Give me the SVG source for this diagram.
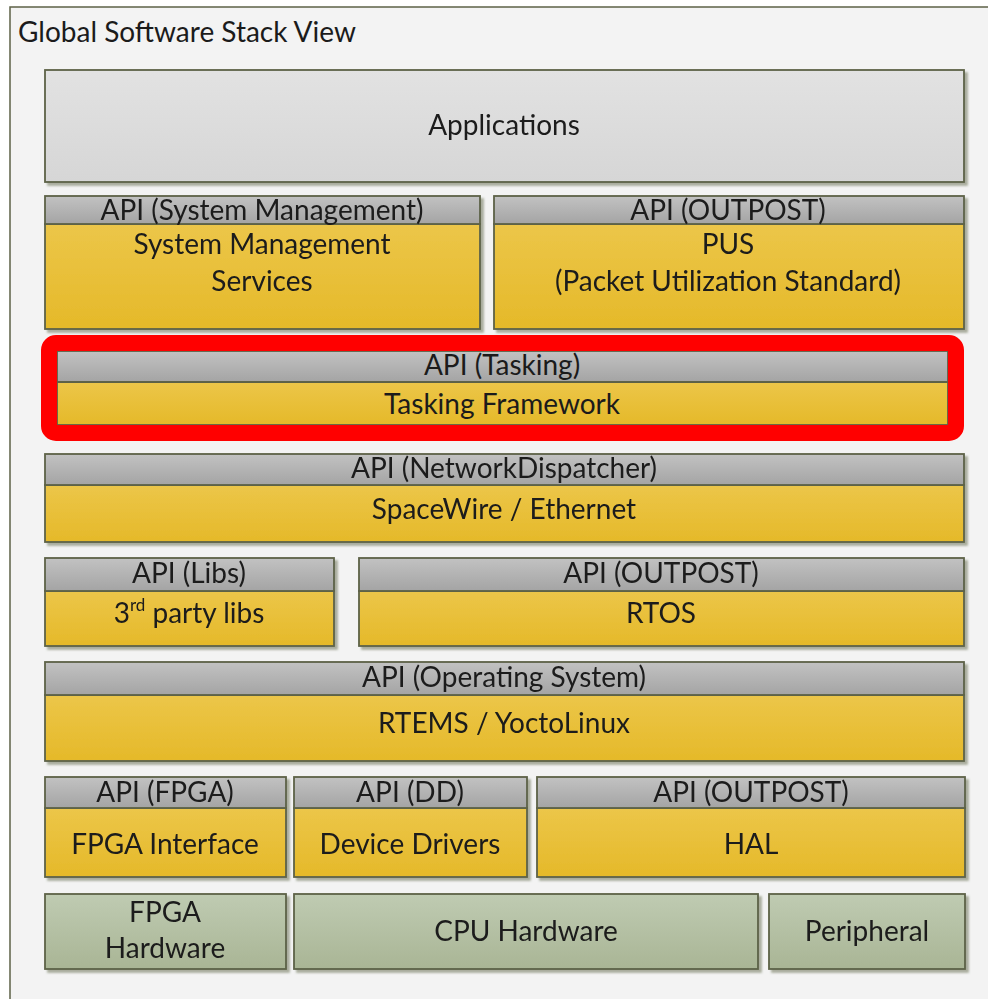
<svg xmlns="http://www.w3.org/2000/svg" width="988" height="999" viewBox="0 0 988 999">
  <defs>
    <linearGradient id="gApi" x1="0" y1="0" x2="0" y2="1">
      <stop offset="0" stop-color="#c2c2c2"/>
      <stop offset="1" stop-color="#a4a4a4"/>
    </linearGradient>
    <linearGradient id="gBody" x1="0" y1="0" x2="0" y2="1">
      <stop offset="0" stop-color="#ecc649"/>
      <stop offset="1" stop-color="#e5b929"/>
    </linearGradient>
    <linearGradient id="gApp" x1="0" y1="0" x2="0" y2="1">
      <stop offset="0" stop-color="#e2e2e2"/>
      <stop offset="1" stop-color="#d6d6d6"/>
    </linearGradient>
    <linearGradient id="gHw" x1="0" y1="0" x2="0" y2="1">
      <stop offset="0" stop-color="#bfcbb2"/>
      <stop offset="1" stop-color="#a9b595"/>
    </linearGradient>
    <filter id="shadow" x="-5%" y="-5%" width="115%" height="120%">
      <feDropShadow dx="3" dy="3" stdDeviation="1" flood-color="#6d7257" flood-opacity="0.55"/>
    </filter>
  </defs>
  <style>
    text { font-family: Lato, "Liberation Sans", sans-serif; font-size: 28px; fill: #1b1b1b; text-anchor: middle; }
    .api { fill: url(#gApi); stroke: #5d6247; stroke-width: 1.8; }
    .body { fill: url(#gBody); stroke: #5d6247; stroke-width: 1.8; }
    .app { fill: url(#gApp); stroke: #5d6247; stroke-width: 1.8; }
    .hw { fill: url(#gHw); stroke: #5d6247; stroke-width: 1.8; }
    .blk { filter: url(#shadow); }
  </style>

  <!-- page and outer frame -->
  <rect x="0" y="0" width="988" height="999" fill="#ffffff"/>
  <rect x="10" y="7" width="990" height="1000" fill="#f3f3f3" stroke="#5d6247" stroke-width="1.5"/>
  <text x="18" y="42" style="text-anchor:start">Global Software Stack View</text>

  <!-- Applications -->
  <g id="applications" class="blk">
    <rect class="app" x="45" y="70" width="919" height="112"/>
    <text x="504" y="135">Applications</text>
  </g>

  <!-- System Management -->
  <g id="system-management" class="blk">
    <rect class="body" x="45" y="224" width="435" height="105"/>
    <rect class="api" x="45" y="196" width="435" height="28"/>
    <text x="262" y="220">API (System Management)</text>
    <text x="262" y="254">System Management</text>
    <text x="262" y="291">Services</text>
  </g>

  <!-- PUS -->
  <g id="pus" class="blk">
    <rect class="body" x="494" y="224" width="470" height="105"/>
    <rect class="api" x="494" y="196" width="470" height="28"/>
    <text x="728" y="220">API (OUTPOST)</text>
    <text x="728" y="254">PUS</text>
    <text x="728" y="291">(Packet Utilization Standard)</text>
  </g>

  <!-- Tasking Framework (highlighted) -->
  <g id="tasking">
    <rect class="body" x="57" y="382" width="891" height="43" stroke="none"/>
    <rect class="api" x="57" y="351" width="891" height="31" stroke="none"/>
    <line x1="57" y1="382" x2="948" y2="382" stroke="#5d6247" stroke-width="1.5"/>
    <text x="502" y="375">API (Tasking)</text>
    <text x="502" y="414">Tasking Framework</text>
    <rect x="49" y="343" width="907" height="90" rx="7" fill="none" stroke="#ff0000" stroke-width="16"/>
  </g>

  <!-- Network dispatcher -->
  <g id="network" class="blk">
    <rect class="body" x="45" y="485" width="919" height="57"/>
    <rect class="api" x="45" y="454" width="919" height="31"/>
    <text x="504" y="478">API (NetworkDispatcher)</text>
    <text x="504" y="519">SpaceWire / Ethernet</text>
  </g>

  <!-- Third party libs -->
  <g id="libs" class="blk">
    <rect class="body" x="45" y="591" width="289" height="55"/>
    <rect class="api" x="45" y="558" width="289" height="33"/>
    <text x="189" y="583">API (Libs)</text>
    <text x="189" y="623">3<tspan font-size="17" dy="-12">rd</tspan><tspan dy="12"> party libs</tspan></text>
  </g>

  <!-- RTOS -->
  <g id="rtos" class="blk">
    <rect class="body" x="359" y="591" width="605" height="55"/>
    <rect class="api" x="359" y="558" width="605" height="33"/>
    <text x="661" y="583">API (OUTPOST)</text>
    <text x="661" y="623">RTOS</text>
  </g>

  <!-- Operating system -->
  <g id="os" class="blk">
    <rect class="body" x="45" y="695" width="919" height="66"/>
    <rect class="api" x="45" y="662" width="919" height="33"/>
    <text x="504" y="687">API (Operating System)</text>
    <text x="504" y="733">RTEMS / YoctoLinux</text>
  </g>

  <!-- FPGA interface -->
  <g id="fpga-if" class="blk">
    <rect class="body" x="45" y="808" width="241" height="69"/>
    <rect class="api" x="45" y="777" width="241" height="31"/>
    <text x="165" y="802">API (FPGA)</text>
    <text x="165" y="854">FPGA Interface</text>
  </g>

  <!-- Device drivers -->
  <g id="drivers" class="blk">
    <rect class="body" x="294" y="808" width="233" height="69"/>
    <rect class="api" x="294" y="777" width="233" height="31"/>
    <text x="410" y="802">API (DD)</text>
    <text x="410" y="854">Device Drivers</text>
  </g>

  <!-- HAL -->
  <g id="hal" class="blk">
    <rect class="body" x="537" y="808" width="428" height="69"/>
    <rect class="api" x="537" y="777" width="428" height="31"/>
    <text x="751" y="802">API (OUTPOST)</text>
    <text x="751" y="854">HAL</text>
  </g>

  <!-- Hardware -->
  <g id="fpga-hw" class="blk">
    <rect class="hw" x="45" y="894" width="241" height="75"/>
    <text x="165" y="922">FPGA</text>
    <text x="165" y="958">Hardware</text>
  </g>
  <g id="cpu-hw" class="blk">
    <rect class="hw" x="294" y="894" width="464" height="75"/>
    <text x="526" y="941">CPU Hardware</text>
  </g>
  <g id="peripheral" class="blk">
    <rect class="hw" x="769" y="894" width="196" height="75"/>
    <text x="867" y="941">Peripheral</text>
  </g>

  <g id="connectors"/>
</svg>
